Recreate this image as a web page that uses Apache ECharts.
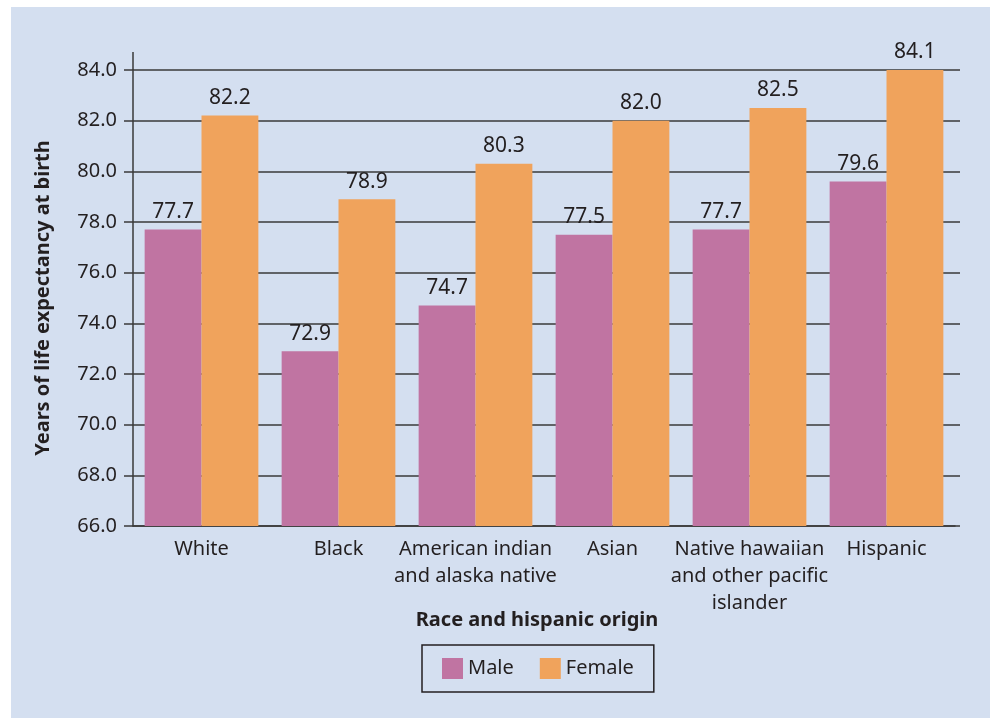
<!DOCTYPE html>
<html>
<head>
<meta charset="utf-8">
<script src="https://cdn.jsdelivr.net/npm/echarts@6/dist/echarts.min.js"></script>
<style>
  html, body { margin: 0; padding: 0; background: #fff; }
  #main { position: absolute; left: 11px; top: 7px; width: 979px; height: 711px; }
</style>
</head>
<body>
<div id="main"></div>
<script>
var categories = ['White', 'Black', 'American indian\nand alaska native', 'Asian', 'Native hawaiian\nand other pacific\nislander', 'Hispanic'];
var maleValues = [77.7, 72.9, 74.7, 77.5, 77.7, 79.6];
var femaleValues = [82.2, 78.9, 80.3, 82.0, 82.5, 84.1];
var yMin = 66, yMax = 84, yStep = 2;

var ink = '#231f20';
var font = 'Noto Sans';

var myChart = echarts.init(document.getElementById('main'));

function barLabel() {
    return {
        show: true,
        position: 'top',
        distance: 7,
        color: ink,
        fontFamily: font,
        fontSize: 21,
        formatter: function (p) { return p.value.toFixed(1); }
    };
}

var option = {
    backgroundColor: '#d4dff0',
    animation: false,
    grid: { left: 122, right: 35, top: 63, bottom: 192 },
    legend: {
        top: 638,
        left: 411,
        data: ['Male', 'Female'],
        icon: 'rect',
        itemWidth: 21,
        itemHeight: 21,
        itemGap: 26,
        padding: [13, 20],
        borderColor: ink,
        borderWidth: 1.5,
        textStyle: { color: ink, fontFamily: font, fontSize: 20 }
    },
    xAxis: {
        type: 'category',
        data: categories,
        name: 'Race and hispanic origin',
        nameLocation: 'middle',
        nameGap: 84,
        nameMoveOverlap: false,
        nameTextStyle: { color: ink, fontFamily: font, fontSize: 20, fontWeight: 'bold', padding: [0, 14, 0, 0] },
        axisLine: { lineStyle: { color: '#3a3a3a', width: 1.5 } },
        axisTick: { length: 7, lineStyle: { color: '#3a3a3a', width: 1.5 } },
        axisLabel: { color: ink, fontFamily: font, fontSize: 20, margin: 10, lineHeight: 27, interval: 0 }
    },
    yAxis: [{
        type: 'value',
        min: yMin,
        max: yMax,
        interval: yStep,
        name: 'Years of life expectancy at birth',
        nameLocation: 'middle',
        nameGap: 80,
        nameMoveOverlap: false,
        nameTextStyle: { color: ink, fontFamily: font, fontSize: 20, fontWeight: 'bold' },
        axisLine: { show: true, lineStyle: { color: '#3a3a3a', width: 1.5 } },
        axisTick: { show: true, length: 9, lineStyle: { color: '#3a3a3a', width: 1.5 } },
        splitLine: { lineStyle: { color: '#3a3a3a', width: 1.5 } },
        axisLabel: { color: ink, fontFamily: font, fontSize: 20, margin: 16, formatter: function (v) { return v.toFixed(1); } }
    }, {
        // right-hand tick stubs
        type: 'value',
        position: 'right',
        min: yMin,
        max: yMax,
        interval: yStep,
        axisLine: { show: false },
        axisTick: { show: true, length: 5, lineStyle: { color: '#3a3a3a', width: 1.5 } },
        axisLabel: { show: false },
        splitLine: { show: false }
    }],
    series: [{
        name: 'Male',
        type: 'bar',
        data: maleValues,
        barGap: '0%',
        barCategoryGap: '17%',
        itemStyle: { color: '#c074a2' },
        label: barLabel()
    }, {
        name: 'Female',
        type: 'bar',
        data: femaleValues,
        itemStyle: { color: '#f0a35c' },
        label: barLabel()
    }]
};
myChart.setOption(option);

// y axis line runs a bit above the top tick
var topPt = myChart.convertToPixel({ yAxisIndex: 0 }, yMax);
var axisX = myChart.convertToPixel({ xAxisIndex: 0 }, 0) - (myChart.convertToPixel({ xAxisIndex: 0 }, 1) - myChart.convertToPixel({ xAxisIndex: 0 }, 0)) / 2;
myChart.setOption({
    graphic: [{
        type: 'line',
        shape: { x1: axisX, y1: topPt - 18, x2: axisX, y2: topPt },
        style: { stroke: '#3a3a3a', lineWidth: 1.5 }
    }]
});
</script>
</body>
</html>
